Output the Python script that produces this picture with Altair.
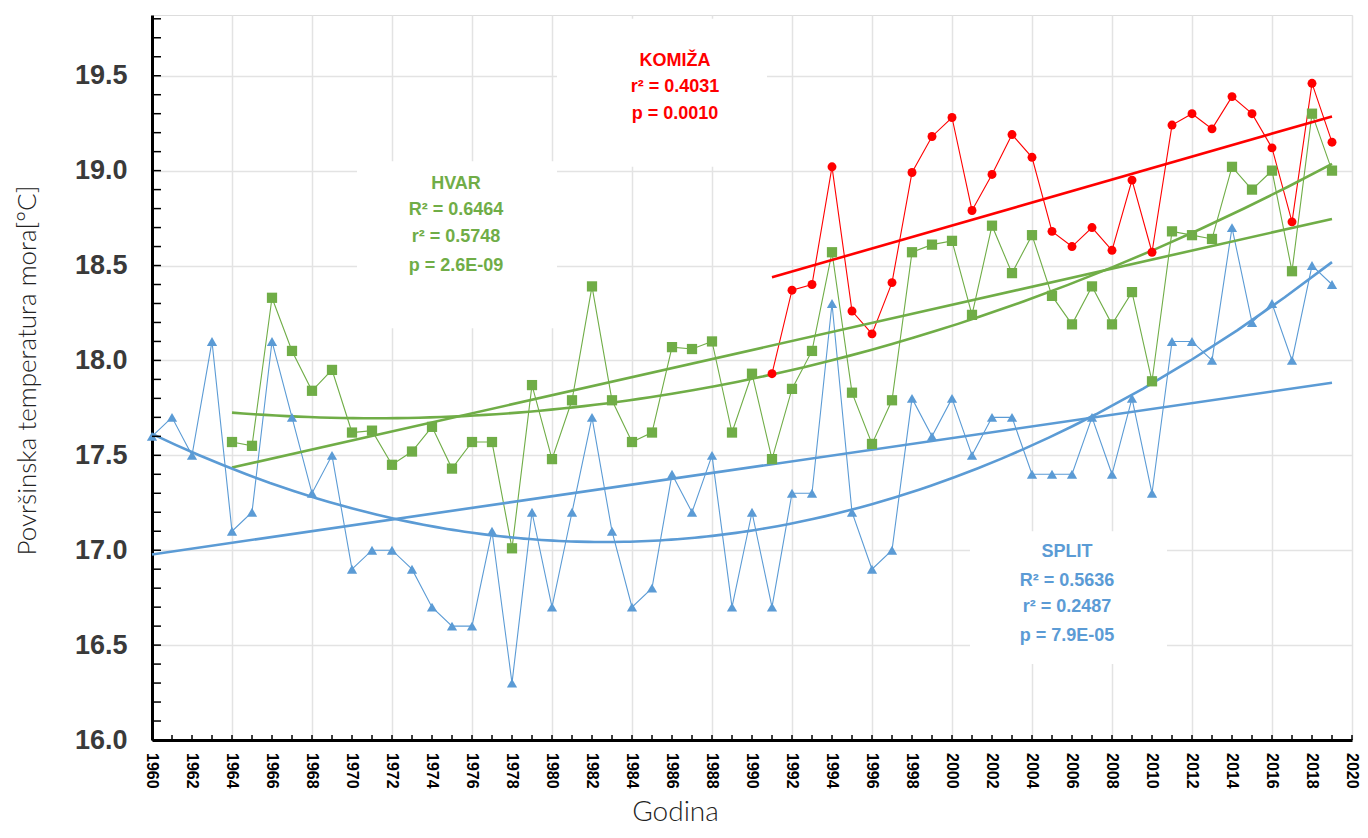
import altair as alt
import pandas as pd

# ---------------- data ----------------
split_years = list(range(1960, 2020))
split_temp = [17.6, 17.7, 17.5, 18.1, 17.1, 17.2, 18.1, 17.7, 17.3, 17.5,
              16.9, 17.0, 17.0, 16.9, 16.7, 16.6, 16.6, 17.1, 16.3, 17.2,
              16.7, 17.2, 17.7, 17.1, 16.7, 16.8, 17.4, 17.2, 17.5, 16.7,
              17.2, 16.7, 17.3, 17.3, 18.3, 17.2, 16.9, 17.0, 17.8, 17.6,
              17.8, 17.5, 17.7, 17.7, 17.4, 17.4, 17.4, 17.7, 17.4, 17.8,
              17.3, 18.1, 18.1, 18.0, 18.7, 18.2, 18.3, 18.0, 18.5, 18.4]

hvar_years = list(range(1964, 2020))
hvar_temp = [17.57, 17.55, 18.33, 18.05, 17.84, 17.95, 17.62, 17.63, 17.45, 17.52,
             17.65, 17.43, 17.57, 17.57, 17.01, 17.87, 17.48, 17.79, 18.39, 17.79,
             17.57, 17.62, 18.07, 18.06, 18.10, 17.62, 17.93, 17.48, 17.85, 18.05,
             18.57, 17.83, 17.56, 17.79, 18.57, 18.61, 18.63, 18.24, 18.71, 18.46,
             18.66, 18.34, 18.19, 18.39, 18.19, 18.36, 17.89, 18.68, 18.66, 18.64,
             19.02, 18.90, 19.00, 18.47, 19.30, 19.00]

komiza_years = list(range(1991, 2020))
komiza_temp = [17.93, 18.37, 18.40, 19.02, 18.26, 18.14, 18.41, 18.99, 19.18, 19.28,
               18.79, 18.98, 19.19, 19.07, 18.68, 18.60, 18.70, 18.58, 18.95, 18.57,
               19.24, 19.30, 19.22, 19.39, 19.30, 19.12, 18.73, 19.46, 19.15]

series_names = ["SPLIT", "HVAR", "KOMIŽA"]
series_colors = ["#5b9bd5", "#70ad47", "#ff0000"]

x_tick_labels = list(range(1960, 2021, 2))
x_minor_ticks = list(range(1960, 2021))
y_tick_labels = [16.0, 16.5, 17.0, 17.5, 18.0, 18.5, 19.0, 19.5]
y_minor_ticks = [round(16.0 + i / 10, 1) for i in range(0, 39)]

# annotation texts (series, year position, temperature position, text)
ann_series = ["KOMIŽA", "KOMIŽA", "KOMIŽA",
              "HVAR", "HVAR", "HVAR", "HVAR",
              "SPLIT", "SPLIT", "SPLIT", "SPLIT"]
ann_x = [1986.15, 1986.15, 1986.15,
         1975.2, 1975.2, 1975.2, 1975.2,
         2005.75, 2005.75, 2005.75, 2005.75]
ann_y = [19.58, 19.44, 19.30,
         18.93, 18.79, 18.65, 18.50,
         16.99, 16.84, 16.70, 16.55]
ann_text = ["KOMIŽA", "r² = 0.4031", "p = 0.0010",
            "HVAR", "R² = 0.6464", "r² = 0.5748", "p = 2.6E-09",
            "SPLIT", "R² = 0.5636", "r² = 0.2487", "p = 7.9E-05"]

# white boxes behind the annotation texts (year / temperature extents)
box_x1 = [1980.25, 1970.25, 2000.9]
box_x2 = [1990.75, 1980.25, 2010.75]
box_y1 = [19.02, 18.17, 16.40]
box_y2 = [19.80, 19.05, 17.10]

# ---------------- tables ----------------
df = pd.concat([
    pd.DataFrame({"series": "SPLIT", "year": split_years, "temp": split_temp}),
    pd.DataFrame({"series": "HVAR", "year": hvar_years, "temp": hvar_temp}),
    pd.DataFrame({"series": "KOMIŽA", "year": komiza_years, "temp": komiza_temp}),
], ignore_index=True)
ann_df = pd.DataFrame({"series": ann_series, "year": ann_x, "temp": ann_y, "text": ann_text})
box_df = pd.DataFrame({"year": box_x1, "year2": box_x2, "temp": box_y1, "temp2": box_y2})
yt_df = pd.DataFrame({"temp": y_minor_ticks})
xt_df = pd.DataFrame({"year": x_minor_ticks})
xl_df = pd.DataFrame({"year": x_tick_labels, "label": [str(v) for v in x_tick_labels]})

W, H = 1200, 725
xscale = alt.Scale(domain=[1960, 2020], nice=False, zero=False)
yscale = alt.Scale(domain=[16.0, 19.82], nice=False, zero=False)
cscale = alt.Scale(domain=series_names, range=series_colors)

X = alt.X("year:Q", scale=xscale,
          axis=alt.Axis(values=x_tick_labels, labels=False, ticks=False,
                        domainColor="#000000", domainWidth=3,
                        grid=True, gridColor="#e3e3e3", gridWidth=1.5,
                        title="Godina", titleFont="Lato", titleFontWeight=300,
                        titleFontSize=28, titleColor="#222222",
                        titleX=523, titleY=80, titleAlign="center",
                        titleBaseline="alphabetic"))
Y = alt.Y("temp:Q", scale=yscale,
          axis=alt.Axis(values=y_tick_labels, format=".1f",
                        labelFontSize=27, labelFont="Liberation Sans",
                        labelFontWeight="bold", labelColor="#3a3a3a",
                        labelPadding=25, ticks=False, labelOverlap=False,
                        domainColor="#000000", domainWidth=3,
                        grid=True, gridColor="#e3e3e3", gridWidth=1.5,
                        title="Površinska temperatura mora[°C]", titleFont="Lato",
                        titleFontWeight=300, titleFontSize=26, titleColor="#222222",
                        titleAngle=270, titleX=-125, titleY=355,
                        titleAlign="center", titleBaseline="middle"))
C = alt.Color("series:N", scale=cscale, legend=None)

base = alt.Chart(df)
axes_layer = base.mark_line(opacity=0).encode(x=X, y=Y)

boxes = alt.Chart(box_df).mark_rect(fill="white").encode(
    x="year:Q", x2="year2:Q", y="temp:Q", y2="temp2:Q")

lines = base.mark_line(strokeWidth=1.1).encode(x="year:Q", y="temp:Q", color=C,
                                               detail="series:N")

lin = base.transform_regression("year", "temp", method="linear",
                                groupby=["series"]).mark_line(strokeWidth=2.6).encode(
    x="year:Q", y="temp:Q", color=C)
poly = base.transform_filter(
    alt.FieldOneOfPredicate(field="series", oneOf=["SPLIT", "HVAR"])
).transform_regression("year", "temp", method="poly", order=2,
                       groupby=["series"]).mark_line(strokeWidth=2.6).encode(
    x="year:Q", y="temp:Q", color=C)


def pts(name, shape, size):
    return base.transform_filter(alt.datum.series == name).mark_point(
        shape=shape, size=size, filled=True, opacity=1).encode(
        x="year:Q", y="temp:Q", color=C)


p_split = pts("SPLIT", "triangle-up", 105)
p_hvar = pts("HVAR", "square", 105)
p_kom = pts("KOMIŽA", "circle", 80)

texts = alt.Chart(ann_df).mark_text(font="Liberation Sans", fontSize=18,
                                    fontWeight="bold", align="center",
                                    baseline="middle").encode(
    x="year:Q", y="temp:Q", text="text:N", color=C)

yticks = alt.Chart(yt_df).mark_rule(color="black", strokeWidth=1.5).encode(
    y="temp:Q", x=alt.value(0), x2=alt.value(9))
xticks = alt.Chart(xt_df).mark_rule(color="black", strokeWidth=1.5).encode(
    x="year:Q", y=alt.value(H), y2=alt.value(H - 5))

xlabels = alt.Chart(xl_df).mark_text(font="Liberation Sans", fontSize=16,
                                     fontWeight="bold", color="#000000", angle=90,
                                     align="left", baseline="middle").encode(
    x="year:Q", y=alt.value(H + 13), text="label:N")

chart = alt.layer(axes_layer, boxes, lines, lin, poly, p_split, p_hvar, p_kom,
                  texts, yticks, xticks, xlabels).properties(
    width=W, height=H,
    padding={"left": 144, "top": 7, "right": 8, "bottom": 88},
    autosize=alt.AutoSizeParams(type="none"),
).configure_view(stroke=None).configure(background="white")

chart.save("out.html", embed_options={"renderer": "svg", "actions": False})
